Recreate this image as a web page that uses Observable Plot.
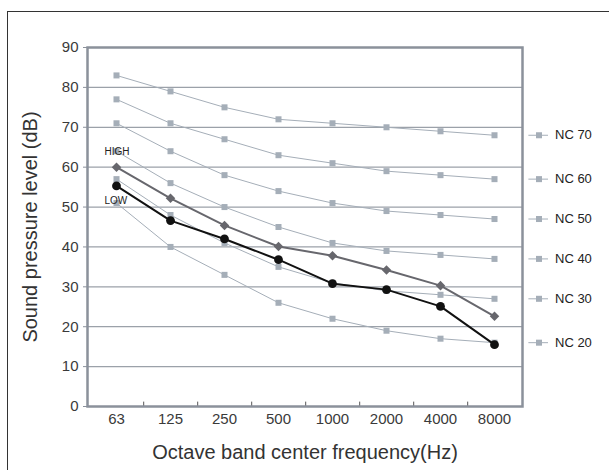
<!DOCTYPE html>
<html><head><meta charset="utf-8">
<script src="https://cdn.jsdelivr.net/npm/d3@7"></script>
<script src="https://cdn.jsdelivr.net/npm/@observablehq/plot@0.6"></script>
<style>
html,body{margin:0;padding:0;background:#fff;overflow:hidden;width:609px;height:470px;}
#chart{position:absolute;left:0;top:0;}
#border{position:absolute;left:7px;top:11px;width:700px;height:600px;border-top:1.5px solid #333;border-left:1.5px solid #333;pointer-events:none;}
</style></head><body>
<div id="chart"></div><div id="border"></div>
<script>
const freqs = ["63", "125", "250", "500", "1000", "2000", "4000", "8000"];
const nc70 = [83, 79, 75, 72, 71, 70, 69, 68];
const nc60 = [77, 71, 67, 63, 61, 59, 58, 57];
const nc50 = [71, 64, 58, 54, 51, 49, 48, 47];
const nc40 = [64, 56, 50, 45, 41, 39, 38, 37];
const nc30 = [57, 48, 41, 35, 31, 29, 28, 27];
const nc20 = [51, 40, 33, 26, 22, 19, 17, 16];
const high = [60, 52.2, 45.4, 40.1, 37.8, 34.2, 30.3, 22.6];
const low = [55.3, 46.6, 42.0, 36.8, 30.8, 29.3, 25.1, 15.5];
const yTicks = [0, 10, 20, 30, 40, 50, 60, 70, 80, 90];
const yGrid = [10, 20, 30, 40, 50, 60, 70, 80];
const ncNames = ["NC 70", "NC 60", "NC 50", "NC 40", "NC 30", "NC 20"];
const xTitle = "Octave band center frequency(Hz)";
const yTitle = "Sound pressure level (dB)";

const ncValues = [nc70, nc60, nc50, nc40, nc30, nc20];
const rows = ncValues.flatMap((vals, k) => vals.map((v, i) => ({name: ncNames[k], f: freqs[i], v})));
const highRows = freqs.map((f, i) => ({f, v: high[i]}));
const lowRows = freqs.map((f, i) => ({f, v: low[i]}));
const legendRows = ncValues.map((vals, k) => ({name: ncNames[k], f: freqs[freqs.length - 1], v: vals[vals.length - 1]}));

const W = 609, H = 470, mL = 87, mR = 87, mT = 47, mB = 64;
const bw = (W - mL - mR) / freqs.length;
const font = "'Liberation Sans', Arial, Helvetica, sans-serif";
const ncColor = "#a5aeb8";

const plot = Plot.plot({
  width: W, height: H,
  marginLeft: mL, marginRight: mR, marginTop: mT, marginBottom: mB,
  style: {fontFamily: font, background: "transparent", color: "#333"},
  x: {domain: freqs, type: "band", padding: 0},
  y: {domain: [0, 90]},
  marks: [
    Plot.gridY(yGrid, {stroke: "#9ba1a9", strokeOpacity: 1, strokeWidth: 1.2}),
    Plot.axisY(yTicks, {tickSize: 4, tickPadding: 5, fontSize: 15, stroke: "#8b919b", fill: "#3a3a3a", label: null}),
    Plot.axisX({tickSize: 0, tickPadding: 7, fontSize: 15, fill: "#3a3a3a", label: null}),
    Plot.ruleX(freqs.slice(0, -1), {dx: bw / 2, y1: 0, y2: 1.1, stroke: "#555", strokeWidth: 1}),
    Plot.line(rows, {x: "f", y: "v", z: "name", stroke: ncColor, strokeWidth: 1}),
    Plot.dot(rows, {x: "f", y: "v", symbol: "square", r: 3.4, fill: ncColor, stroke: "none"}),
    Plot.line(highRows, {x: "f", y: "v", stroke: "#67676d", strokeWidth: 2}),
    Plot.dot(highRows, {x: "f", y: "v", symbol: "diamond2", r: 4.3, fill: "#67676d", stroke: "none"}),
    Plot.line(lowRows, {x: "f", y: "v", stroke: "#111", strokeWidth: 2}),
    Plot.dot(lowRows, {x: "f", y: "v", symbol: "circle", r: 4.4, fill: "#111", stroke: "none"}),
    Plot.text([highRows[0]], {x: "f", y: "v", text: () => "HIGH", textAnchor: "start", dx: -12, dy: -15, fontSize: 10, fill: "#222"}),
    Plot.text([lowRows[0]], {x: "f", y: "v", text: () => "LOW", textAnchor: "start", dx: -12, dy: 15, fontSize: 10, fill: "#222"}),
    Plot.frame({stroke: "#8b919b", strokeWidth: 2.5}),
    Plot.tickY(legendRows, {x: "f", y: "v", dx: bw + 7, insetRight: bw - 20, stroke: ncColor, strokeWidth: 1}),
    Plot.dot(legendRows, {x: "f", y: "v", dx: 44.5, symbol: "square", r: 3.4, fill: ncColor, stroke: "none"}),
    Plot.text(legendRows, {x: "f", y: "v", text: "name", dx: 60.5, textAnchor: "start", fontSize: 13, fill: "#222"}),
    Plot.text([xTitle], {frameAnchor: "bottom", dy: 46, fontSize: 20, fill: "#333", textAnchor: "middle", lineAnchor: "middle"}),
    Plot.text([yTitle], {frameAnchor: "left", dx: -57, rotate: -90, fontSize: 20, fill: "#333", textAnchor: "middle", lineAnchor: "middle"})
  ]
});
document.getElementById("chart").appendChild(plot);
</script>
</body></html>
